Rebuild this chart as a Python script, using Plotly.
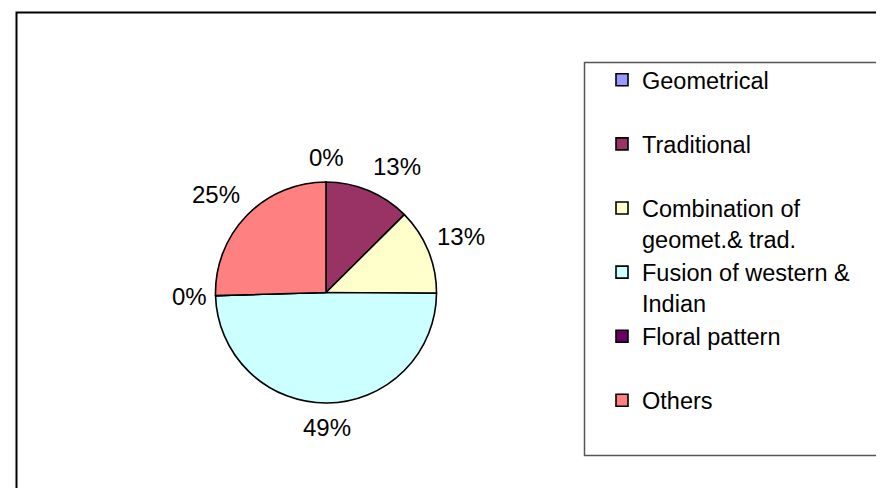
import math
import plotly.graph_objects as go

W, H = 884, 488

categories = ["Geometrical", "Traditional", "Combination of<br>geomet.& trad.",
              "Fusion of western &<br>Indian", "Floral pattern", "Others"]
values = [0, 12.55, 12.55, 49.45, 0, 25.45]   # percent shares
colors = ["#9999FF", "#993366", "#FFFFCC", "#CCFFFF", "#660066", "#FF8080"]

# each legend entry takes two text lines, as in the original
legend_labels = [c if "<br>" in c else c + "<br> " for c in categories]

FONT = "Liberation Sans, Arial, sans-serif"

# pie placement in pixels
cx, cy, r = 318, 284.5, 110.5

fig = go.Figure()
fig.add_trace(go.Pie(
    labels=legend_labels,
    values=values,
    sort=False,
    direction="clockwise",
    rotation=0,
    marker=dict(colors=colors, line=dict(color="black", width=1.6)),
    textinfo="none",
    domain=dict(x=[(cx - r) / W, (cx + r) / W], y=[1 - (cy + r) / H, 1 - (cy - r) / H]),
    hoverinfo="label+percent",
    showlegend=True,
))

# percentage labels outside the pie, placed Excel-style from each slice's mid angle
total = sum(values)
annotations = []
cum = 0.0
Rv, Rh = r + 12, r + 7
for v in values:
    frac = v / total
    mid = (cum + frac / 2) * 2 * math.pi  # clockwise from 12 o'clock
    cum += frac
    s, c = math.sin(mid), math.cos(mid)
    ax = cx + Rh * s
    k = 13 * min(1.0, 2 * abs(c)) * (1 if c >= 0 else -1)
    ay = cy - Rv * c - k
    if abs(s) < 0.2:
        xa = "center"
    elif s > 0:
        xa = "left"
    else:
        xa = "right"
    annotations.append(dict(
        x=ax / W, y=1 - ay / H, xref="paper", yref="paper",
        text=f"{int(frac * 100 + 0.5)}%", showarrow=False,
        xanchor=xa, yanchor="middle",
        font=dict(family=FONT, size=24, color="black"),
    ))

fig.update_layout(
    width=W, height=H,
    margin=dict(l=0, r=0, t=0, b=0),
    paper_bgcolor="white",
    plot_bgcolor="white",
    font=dict(family=FONT, size=23.5, color="black"),
    annotations=annotations,
    legend=dict(
        x=594 / W, xanchor="left",
        y=1 - 50 / H, yanchor="top",
        valign="top",
        bgcolor="rgba(0,0,0,0)",
        borderwidth=0,
        font=dict(family=FONT, size=23.5, color="black"),
        itemclick=False, itemdoubleclick=False,
    ),
    shapes=[
        # outer chart border
        dict(type="rect", xref="paper", yref="paper",
             x0=8.5 / W, x1=1.02, y0=-0.02, y1=1 - 4.5 / H,
             line=dict(color="black", width=2), fillcolor="rgba(0,0,0,0)", layer="below"),
        # legend frame
        dict(type="rect", xref="paper", yref="paper",
             x0=576.5 / W, x1=1.02, y0=1 - 447.5 / H, y1=1 - 54.5 / H,
             line=dict(color="#555555", width=1.5), fillcolor="rgba(0,0,0,0)", layer="below"),
    ],
)

fig.write_html("out.html")
